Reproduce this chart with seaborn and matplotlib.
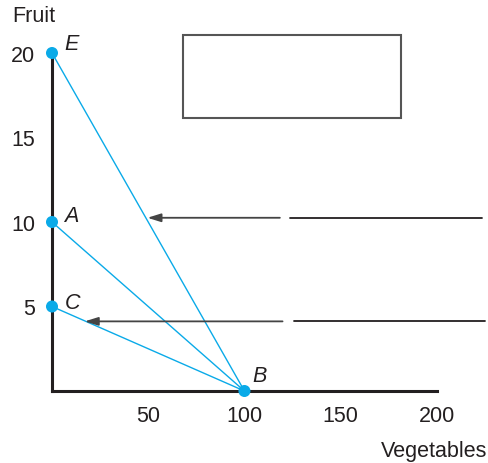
import matplotlib
matplotlib.use('Agg')
import matplotlib.pyplot as plt
import seaborn as sns
import pandas as pd

# Points of the diagram
labels = ['E', 'A', 'C', 'B']
vegetables = [0, 0, 0, 100]
fruit = [20, 10, 5, 0]

# Lines from each fruit-axis point to B
line_starts = [20, 10, 5]

x_ticks = [50, 100, 150, 200]
y_ticks = [5, 10, 15, 20]

sns.set_style('white')
plt.rcParams['font.family'] = ['Liberation Sans', 'DejaVu Sans']

blue = '#0AAAE8'
dark = '#231F20'
fs = 15.5

fig = plt.figure(figsize=(4.88, 4.64), dpi=100)
ax = fig.add_axes([52 / 488, 72 / 464, 433 / 488, 371.8 / 464])

for y0 in line_starts:
    sns.lineplot(x=[0, vegetables[3]], y=[y0, 0], color=blue, lw=1.0,
                 ax=ax, clip_on=False)

df = pd.DataFrame({'veg': vegetables, 'fruit': fruit, 'label': labels})
sns.scatterplot(data=df, x='veg', y='fruit', color=blue, s=75,
                edgecolor='none', ax=ax, clip_on=False, zorder=5)

offsets = {'E': (9, 7), 'A': (9, 5), 'C': (9, 3), 'B': (6, 11)}
for _, r in df.iterrows():
    ax.annotate(r['label'], (r['veg'], r['fruit']), xytext=offsets[r['label']],
                textcoords='offset points', fontsize=fs, style='italic',
                ha='left', va='center', color=dark)

# Arrows with a gap
ax.annotate('', xy=(49.6, 10.25), xytext=(118.4, 10.25),
            arrowprops=dict(arrowstyle='-|>,head_length=0.8,head_width=0.25',
                            color='#444444', lw=1.3, shrinkA=0, shrinkB=0))
ax.plot([123.6, 223.7], [10.25, 10.25], color=dark, lw=1.3, clip_on=False)
ax.annotate('', xy=(17.0, 4.12), xytext=(119.8, 4.12),
            arrowprops=dict(arrowstyle='-|>,head_length=0.8,head_width=0.25',
                            color='#444444', lw=1.3, shrinkA=0, shrinkB=0))
ax.plot([126.0, 225], [4.12, 4.12], color=dark, lw=1.3, clip_on=False)

# Empty box
ax.add_patch(plt.Rectangle((68.1, 16.15), 113.2, 4.93, fill=False,
                           edgecolor='#555555', lw=1.5, clip_on=False))

ax.set_xlim(0, 225)
ax.set_ylim(0, 22)
ax.set_xticks(x_ticks)
ax.set_yticks(y_ticks)
ax.tick_params(direction='in', length=4, width=1, colors=dark,
               labelsize=fs, labelcolor=dark)
ax.tick_params(axis='x', pad=10)
ax.tick_params(axis='y', pad=12)
ax.set_xlabel('')
ax.set_ylabel('')

for side in ['top', 'right']:
    ax.spines[side].set_visible(False)
ax.spines['left'].set_bounds(0, 20)
ax.spines['bottom'].set_bounds(0, 200)
for side in ['left', 'bottom']:
    ax.spines[side].set_color(dark)
    ax.spines[side].set_linewidth(2.2)

fig.text(12 / 488, 1 - 17 / 464, 'Fruit', fontsize=fs, color=dark,
         ha='left', va='center')
fig.text(487 / 488, 1 - 452 / 464, 'Vegetables', fontsize=fs, color=dark,
         ha='right', va='center')

fig.savefig('out.png', dpi=100)
